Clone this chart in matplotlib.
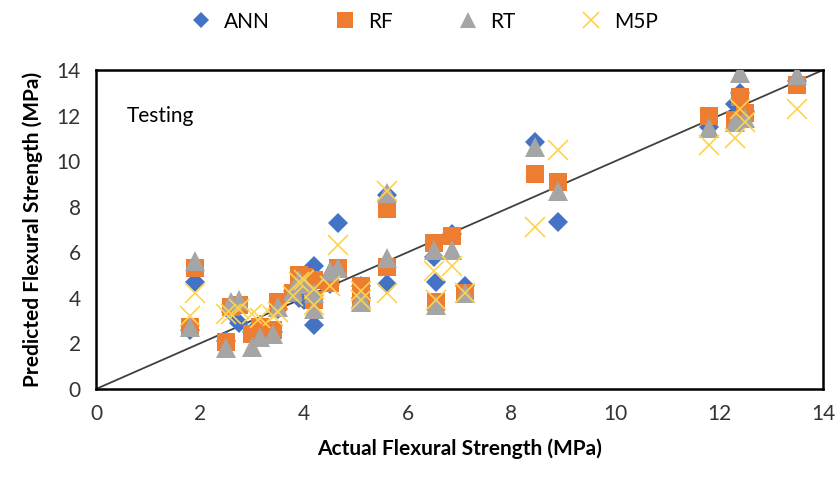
import numpy as np
import matplotlib
matplotlib.use("Agg")
import matplotlib.pyplot as plt

plt.rcParams['font.family'] = ['Lato', 'DejaVu Sans']

# actual vs predicted flexural strength (MPa), testing set
actual = [1.8, 1.9, 2.5, 2.6, 2.75, 3.0, 3.15, 3.4, 3.5, 3.8, 3.9, 4.0, 4.2, 4.2, 4.5, 4.65,
          5.1, 5.1, 5.6, 5.6, 6.5, 6.55, 6.85, 7.1, 8.45, 8.9, 11.8, 12.3, 12.4, 12.5, 13.5]
ann = [2.6, 4.7, 2.1, 3.4, 2.9, 2.5, 2.8, 2.5, 3.5, 4.3, 4.0, 3.9, 5.4, 2.8, 4.6, 7.3,
       4.5, 4.0, 8.5, 4.6, 5.8, 4.7, 6.8, 4.5, 10.85, 7.35, 11.5, 12.5, 13.0, 12.2, 13.5]
rf = [2.7, 5.3, 2.05, 3.6, 3.7, 2.4, 2.7, 2.6, 3.8, 4.2, 5.0, 4.9, 4.8, 3.9, 4.65, 5.3,
      4.5, 3.8, 7.9, 5.35, 6.4, 3.8, 6.7, 4.2, 9.45, 9.1, 12.0, 11.8, 12.8, 12.1, 13.35]
rt = [2.7, 5.6, 1.8, 3.8, 3.9, 1.85, 2.3, 2.4, 3.6, 4.3, 4.8, 4.6, 4.2, 3.5, 5.2, 5.3,
      4.0, 3.8, 8.6, 5.75, 6.1, 3.7, 6.1, 4.2, 10.6, 8.7, 11.45, 11.7, 13.85, 11.9, 13.8]
m5p = [3.2, 4.2, 3.3, 3.3, 3.5, 3.3, 3.1, 3.2, 3.4, 4.1, 4.7, 4.8, 4.4, 3.7, 4.5, 6.3,
       4.3, 3.9, 8.7, 4.2, 5.2, 3.9, 5.4, 4.2, 7.1, 10.5, 10.7, 11.0, 12.3, 11.7, 12.3]

fig = plt.figure(figsize=(8.38, 4.8), dpi=100)
ax = fig.add_axes([0.1146, 0.1896, 0.8676, 0.6646])

ax.plot([0, 14], [0, 14], color='#404040', lw=1.3, zorder=1)

ax.plot(actual, ann, 'D', color='#4472C4', ms=10, mew=0, label='ANN', zorder=2)
ax.plot(actual, rf, 's', color='#ED7D31', ms=13, mew=0, label='RF', zorder=3)
ax.plot(actual, rt, '^', color='#A5A5A5', ms=14, mew=0, label='RT', zorder=4)
ax.plot(actual, m5p, 'x', color='#FFD24D', ms=14, mew=1.2, label='M5P', zorder=5)

ax.set_xlim(0, 14)
ax.set_ylim(0, 14)
ax.set_xticks(range(0, 15, 2))
ax.set_yticks(range(0, 15, 2))
ax.tick_params(length=0, labelsize=15, colors='#333333', pad=11)
for s in ax.spines.values():
    s.set_linewidth(1.8)
    s.set_color('black')

ax.set_xlabel('Actual Flexural Strength (MPa)', fontsize=15, fontweight='bold', labelpad=10)
ax.set_ylabel('Predicted Flexural Strength (MPa)', fontsize=15, fontweight='bold', labelpad=10)

ax.text(0.6, 12.0, 'Testing', fontsize=15, va='center')

fig.legend(loc='upper center', bbox_to_anchor=(0.5, 1.015), ncol=4, frameon=False,
           fontsize=15, handletextpad=0.1, columnspacing=2.6, markerscale=0.85)

fig.savefig('out.png', dpi=100)
